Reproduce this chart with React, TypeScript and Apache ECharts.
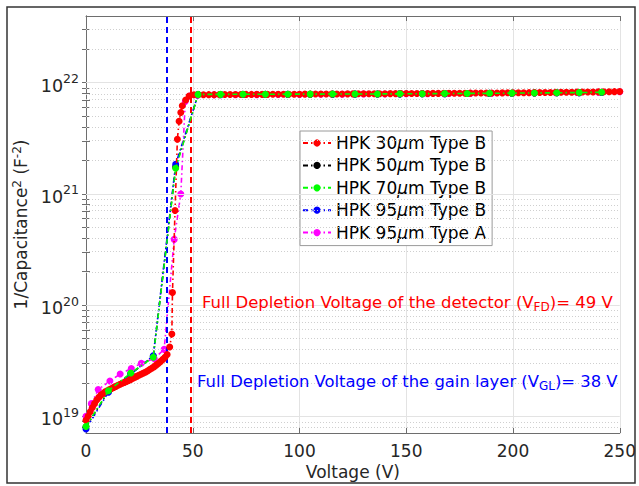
import React, { useEffect, useRef } from "react";
import * as echarts from "echarts";

const FONT = "DejaVu Sans";

const SERIES_NAMES = [
  "HPK 30μm Type B",
  "HPK 50μm Type B",
  "HPK 70μm Type B",
  "HPK 95μm Type B",
  "HPK 95μm Type A",
];
const SERIES_COLORS = ["#ff0000", "#000000", "#00ff00", "#0000ff", "#ff00ff"];
const SERIES_Z = [5, 2, 6, 3, 4];

// HPK 30um Type B (dense sweep)
const RED_LOW_V = [
  0, 1, 2, 3, 4, 5, 6, 7, 8, 9, 10, 11, 12, 13, 14, 15, 16, 17, 18, 19, 20, 21, 22, 23, 24, 25,
  26, 27, 28, 29, 30, 31, 32, 33, 34, 35, 36, 37, 38,
  39.2, 40.2, 40.5, 41.7, 42.8, 43.6, 44.4, 45.1, 46.7, 48.3, 50.6,
];
const RED_LOW_C = [
  9.2e18, 1.0e19, 1.1e19, 1.2e19, 1.3e19, 1.4e19, 1.48e19, 1.55e19, 1.6e19, 1.66e19, 1.7e19,
  1.74e19, 1.78e19, 1.82e19, 1.86e19, 1.9e19, 1.94e19, 1.98e19, 2.02e19, 2.06e19, 2.1e19,
  2.15e19, 2.2e19, 2.25e19, 2.3e19, 2.35e19, 2.4e19, 2.45e19, 2.5e19, 2.57e19, 2.65e19,
  2.72e19, 2.8e19, 2.9e19, 3.0e19, 3.12e19, 3.25e19, 3.4e19, 3.6e19,
  4.2e19, 5.5e19, 1.3e20, 7.1e20, 3.1e21, 4.5e21, 5.4e21, 6.2e21, 7.0e21, 7.6e21, 7.8e21,
];
const RED_FLAT_V = [
  52.5, 55, 57.5, 60, 62.5, 65, 67.5, 70, 72.5, 75, 77.5, 80, 82.5, 85, 87.5, 90, 92.5, 95, 97.5,
  100, 102.5, 105, 107.5, 110, 112.5, 115, 117.5, 120, 122.5, 125, 127.5, 130, 132.5, 135, 137.5,
  140, 142.5, 145, 147.5, 150, 152.5, 155, 157.5, 160, 162.5, 165, 167.5, 170, 172.5, 175, 177.5,
  180, 182.5, 185, 187.5, 190, 192.5, 195, 197.5, 200, 202.5, 205, 207.5, 210, 212.5, 215, 217.5,
  220, 222.5, 225, 227.5, 230, 232.5, 235, 237.5, 240, 242.5, 245, 247.5, 250,
];
const RED_FLAT_C = [
  7.80e21, 7.80e21, 7.81e21, 7.81e21, 7.82e21, 7.83e21, 7.83e21, 7.84e21, 7.84e21, 7.85e21,
  7.85e21, 7.86e21, 7.86e21, 7.86e21, 7.87e21, 7.87e21, 7.88e21, 7.88e21, 7.89e21, 7.89e21,
  7.90e21, 7.90e21, 7.91e21, 7.91e21, 7.92e21, 7.92e21, 7.93e21, 7.93e21, 7.94e21, 7.94e21,
  7.95e21, 7.95e21, 7.96e21, 7.96e21, 7.97e21, 7.97e21, 7.98e21, 7.98e21, 7.99e21, 7.99e21,
  8.00e21, 8.00e21, 8.01e21, 8.01e21, 8.02e21, 8.02e21, 8.03e21, 8.03e21, 8.04e21, 8.05e21,
  8.05e21, 8.06e21, 8.07e21, 8.07e21, 8.08e21, 8.09e21, 8.09e21, 8.10e21, 8.11e21, 8.12e21,
  8.12e21, 8.13e21, 8.14e21, 8.15e21, 8.16e21, 8.17e21, 8.18e21, 8.19e21, 8.20e21, 8.21e21,
  8.22e21, 8.23e21, 8.24e21, 8.25e21, 8.26e21, 8.27e21, 8.28e21, 8.30e21, 8.31e21, 8.33e21,
];
const RED_V = [...RED_LOW_V, ...RED_FLAT_V];
const RED_C = [...RED_LOW_C, ...RED_FLAT_C];

// HPK 50um / 70um / 95um Type B share the same voltage steps
const STEP_V = [
  0, 10.5, 21, 31.5, 42, 52.5, 63, 73.5, 84, 94.5, 105, 115.5, 126, 136.5, 147, 157.5, 168,
  178.5, 189, 199.5, 210, 220.5, 231, 241.5,
];
const BLACK_C = [
  8.0e18, 1.68e19, 2.42e19, 3.45e19, 1.75e21, 7.82e21, 7.84e21, 7.85e21, 7.86e21, 7.87e21,
  7.88e21, 7.9e21, 7.91e21, 7.92e21, 7.94e21, 7.96e21, 7.98e21, 8.0e21, 8.02e21, 8.05e21,
  8.08e21, 8.11e21, 8.15e21, 8.19e21,
];
const GREEN_C = [
  8.1e18, 1.7e19, 2.45e19, 3.4e19, 1.7e21, 7.85e21, 7.86e21, 7.87e21, 7.88e21, 7.89e21,
  7.9e21, 7.91e21, 7.92e21, 7.93e21, 7.95e21, 7.97e21, 7.99e21, 8.01e21, 8.03e21, 8.06e21,
  8.09e21, 8.12e21, 8.16e21, 8.2e21,
];
const BLUE_C = [
  7.7e18, 1.65e19, 2.4e19, 3.5e19, 1.85e21, 7.8e21, 7.82e21, 7.84e21, 7.85e21, 7.86e21,
  7.87e21, 7.89e21, 7.9e21, 7.92e21, 7.94e21, 7.96e21, 7.98e21, 8.0e21, 8.02e21, 8.05e21,
  8.08e21, 8.11e21, 8.15e21, 8.19e21,
];

// HPK 95um Type A
const MAG_V = [
  0, 2.5, 5.7, 11.2, 16, 21.2, 25.9, 32, 36.6, 41.3, 44.4, 46.5, 48.5, 52,
  60, 70, 80, 90, 100, 110, 120, 130, 140, 150, 160, 170, 180, 190, 200, 210, 220, 230, 240, 250,
];
const MAG_C = [
  1.0e19, 1.3e19, 1.74e19, 2.08e19, 2.4e19, 2.69e19, 3.0e19, 3.3e19, 4.0e19, 3.9e20, 1.0e21,
  6.8e21, 7.6e21, 7.75e21,
  7.78e21, 7.8e21, 7.82e21, 7.83e21, 7.85e21, 7.87e21, 7.89e21, 7.91e21, 7.93e21, 7.95e21,
  7.97e21, 7.99e21, 8.02e21, 8.05e21, 8.08e21, 8.11e21, 8.15e21, 8.19e21, 8.23e21, 8.28e21,
];

const SERIES_V = [RED_V, STEP_V, STEP_V, STEP_V, MAG_V];
const SERIES_C = [RED_C, BLACK_C, GREEN_C, BLUE_C, MAG_C];

const X_MIN = 0;
const X_MAX = 250;
const X_STEP = 50;
const Y_DECADES = [19, 20, 21, 22];
const Y_LOG_MIN = 18.85;
const Y_LOG_MAX = 22.6;

const V_GL = 38;
const V_FD = 49;

export default function App() {
  const ref = useRef<HTMLDivElement>(null);

  useEffect(() => {
    if (!ref.current) return;
    const chart = echarts.init(ref.current, null, { renderer: "svg" });

    const minorLogs: number[] = [];
    for (let d = 18; d <= 22; d++) {
      for (let k = 2; k <= 9; k++) {
        const v = d + Math.log10(k);
        if (v > Y_LOG_MIN && v < Y_LOG_MAX - 0.005) minorLogs.push(v);
      }
    }
    const allTicks = [...Y_DECADES, ...minorLogs].sort((a, b) => a - b);

    const dashDot = [5, 3, 1.5, 3];

    const dataSeries = SERIES_NAMES.map((name, i) => ({
      name,
      type: "line",
      z: SERIES_Z[i],
      data: SERIES_V[i].map((v, j) => [v, Math.log10(SERIES_C[i][j])]),
      symbol: "circle",
      symbolSize: 7,
      showSymbol: true,
      color: SERIES_COLORS[i],
      itemStyle: { color: SERIES_COLORS[i] },
      lineStyle: { color: SERIES_COLORS[i], width: 1.6, type: dashDot },
      emphasis: { disabled: true },
    }));

    const gridSeries = {
      type: "line",
      z: 1,
      data: [[0, Y_LOG_MIN]],
      showSymbol: false,
      lineStyle: { opacity: 0 },
      silent: true,
      markLine: {
        silent: true,
        symbol: ["none", "none"],
        label: { show: false },
        animation: false,
        data: [
          ...Y_DECADES.map((v) => ({
            yAxis: v,
            lineStyle: { color: "#e3e3e3", width: 1, type: "solid" },
          })),
          ...minorLogs.map((v) => ({
            yAxis: v,
            lineStyle: { color: "#cfcfcf", width: 1, type: [1, 2] },
          })),
        ],
      },
    };

    const vLineSeries = {
      type: "line",
      z: 1,
      data: [[0, Y_LOG_MIN]],
      showSymbol: false,
      lineStyle: { opacity: 0 },
      silent: true,
      markLine: {
        silent: true,
        symbol: ["none", "none"],
        label: { show: false },
        animation: false,
        data: [
          { xAxis: V_GL, lineStyle: { color: "#0000ff", width: 2, type: [6, 4] } },
          { xAxis: V_FD, lineStyle: { color: "#ff0000", width: 2, type: [6, 4] } },
        ],
      },
    };

    const axisColor = "#6e6e6e";
    const labelColor = "#262626";

    const option: any = {
      animation: false,
      backgroundColor: "#ffffff",
      textStyle: { fontFamily: FONT },
      grid: { left: 86, right: 14, top: 16, bottom: 53, containLabel: false },
      graphic: [
        {
          type: "rect",
          z: 0,
          silent: true,
          shape: { x: 7, y: 7, width: 628, height: 476 },
          style: { fill: "none", stroke: "#333333", lineWidth: 1.5 },
        },
        {
          type: "text",
          z: 20,
          x: 202,
          y: 302,
          style: {
            text: "Full Depletion Voltage of the detector (V{sub|FD})= 49 V",
            fill: "#ff0000",
            font: `16.5px '${FONT}'`,
            verticalAlign: "middle",
            rich: {
              sub: { fontSize: 12, fontFamily: FONT, fill: "#ff0000", padding: [10, 0, 0, 0] },
            },
          },
        },
        {
          type: "text",
          z: 20,
          x: 197,
          y: 381,
          style: {
            text: "Full Depletion Voltage of the gain layer (V{sub|GL})= 38 V",
            fill: "#0000ff",
            font: `16.4px '${FONT}'`,
            verticalAlign: "middle",
            rich: {
              sub: { fontSize: 12, fontFamily: FONT, fill: "#0000ff", padding: [10, 0, 0, 0] },
            },
          },
        },
      ],
      legend: {
        data: SERIES_NAMES,
        orient: "vertical",
        left: 300,
        top: 131,
        backgroundColor: "#ffffff",
        borderColor: "#9a9a9a",
        borderWidth: 1,
        borderRadius: 0,
        padding: [2, 6, 3, 2],
        itemWidth: 28,
        itemHeight: 9,
        itemGap: 2.4,
        selectedMode: false,
        formatter: (name: string) => name.replace("μ", "{mu|μ}"),
        textStyle: {
          fontFamily: FONT,
          fontSize: 17,
          color: "#000000",
          lineHeight: 20,
          rich: {
            mu: { fontFamily: FONT, fontSize: 17, fontStyle: "italic", color: "#000000" },
          },
        },
      },
      xAxis: [
        {
          type: "value",
          min: X_MIN,
          max: X_MAX,
          interval: X_STEP,
          name: "Voltage (V)",
          nameLocation: "middle",
          nameGap: 26,
          nameTextStyle: { fontFamily: FONT, fontSize: 17, color: labelColor },
          axisLine: { show: true, lineStyle: { color: axisColor, width: 1 } },
          axisTick: { show: true, inside: true, length: 5, lineStyle: { color: axisColor } },
          axisLabel: { fontFamily: FONT, fontSize: 17, color: labelColor, margin: 9 },
          splitLine: { show: true, lineStyle: { color: "#e3e3e3", width: 1 } },
        },
        {
          type: "value",
          position: "top",
          min: X_MIN,
          max: X_MAX,
          interval: X_STEP,
          axisLine: { show: true, lineStyle: { color: axisColor, width: 1 } },
          axisTick: { show: true, inside: true, length: 5, lineStyle: { color: axisColor } },
          axisLabel: { show: false },
          splitLine: { show: false },
        },
      ],
      yAxis: [
        {
          type: "value",
          min: Y_LOG_MIN,
          max: Y_LOG_MAX,
          name: "1/Capacitance{sup|2} (F{sup|-2})",
          nameLocation: "middle",
          nameGap: 39,
          nameTextStyle: {
            fontFamily: FONT,
            fontSize: 17,
            color: labelColor,
            rich: {
              sup: { fontFamily: FONT, fontSize: 12, color: labelColor, padding: [0, 0, 9, 0] },
            },
          },
          axisLine: { show: true, lineStyle: { color: axisColor, width: 1 } },
          axisTick: {
            show: true,
            inside: true,
            length: 4,
            customValues: allTicks,
            lineStyle: { color: axisColor },
          },
          axisLabel: {
            customValues: Y_DECADES,
            margin: 7,
            formatter: (v: number) => `{b|10}{s|${Math.round(v)}}`,
            rich: {
              b: { fontFamily: FONT, fontSize: 17.5, color: labelColor, padding: [6, 0, 0, 0] },
              s: { fontFamily: FONT, fontSize: 12.5, color: labelColor, padding: [0, 0, 8, 0] },
            },
          },
          splitLine: { show: false },
        },
        {
          type: "value",
          position: "right",
          min: Y_LOG_MIN,
          max: Y_LOG_MAX,
          axisLine: { show: true, lineStyle: { color: axisColor, width: 1 } },
          axisTick: {
            show: true,
            inside: true,
            length: 4,
            customValues: allTicks,
            lineStyle: { color: axisColor },
          },
          axisLabel: { show: false },
          splitLine: { show: false },
        },
      ],
      series: [gridSeries, vLineSeries, ...dataSeries],
    };

    chart.setOption(option);
    return () => chart.dispose();
  }, []);

  return (
    <div
      ref={ref}
      style={{ position: "fixed", left: 0, top: 0, width: 639, height: 486, background: "#fff" }}
    />
  );
}
